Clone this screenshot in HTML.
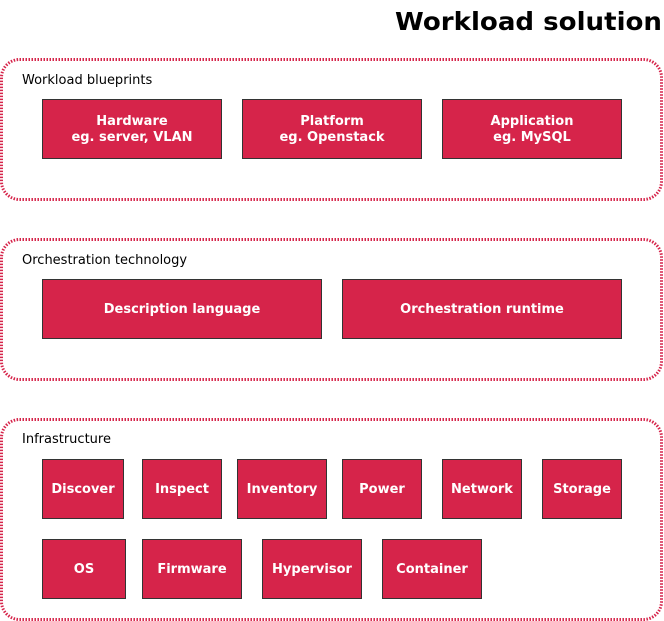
<!DOCTYPE html>
<html><head><style>
html,body{margin:0;padding:0;background:#fff;}
svg{display:block}
text{font-family:"DejaVu Sans",sans-serif;}
.b{fill:#d6244a;stroke:#333;stroke-width:1}
.t{fill:#fff;font-weight:bold;font-size:13px;text-anchor:middle}
.l{fill:#000;font-size:13px}
.s{fill:none;stroke:#d6244a;stroke-width:3;stroke-dasharray:1.5 1.5}
</style></head><body>
<svg width="664" height="621" xmlns="http://www.w3.org/2000/svg">
<text x="662" y="30" text-anchor="end" textLength="267" lengthAdjust="spacingAndGlyphs" style="font-family:'DejaVu Sans',sans-serif;font-weight:bold;font-size:25px">Workload solution</text>
<rect class="s" x="1.5" y="59.5" width="660" height="140" rx="18"/>
<rect class="s" x="1.5" y="239.5" width="660" height="140" rx="18"/>
<rect class="s" x="1.5" y="419.5" width="660" height="200" rx="18"/>
<text class="l" x="22" y="84">Workload blueprints</text>
<text class="l" x="22" y="264">Orchestration technology</text>
<text class="l" x="22" y="443">Infrastructure</text>
<rect class="b" x="42.5" y="99.5" width="179" height="59"/>
<text class="t" x="132" y="125">Hardware</text><text class="t" x="132" y="141">eg. server, VLAN</text>
<rect class="b" x="242.5" y="99.5" width="179" height="59"/>
<text class="t" x="332" y="125">Platform</text><text class="t" x="332" y="141">eg. Openstack</text>
<rect class="b" x="442.5" y="99.5" width="179" height="59"/>
<text class="t" x="532" y="125">Application</text><text class="t" x="532" y="141">eg. MySQL</text>
<rect class="b" x="42.5" y="279.5" width="279" height="59"/>
<text class="t" x="182" y="313">Description language</text>
<rect class="b" x="342.5" y="279.5" width="279" height="59"/>
<text class="t" x="482" y="313">Orchestration runtime</text>
<rect class="b" x="42.5" y="459.5" width="81" height="59"/><text class="t" x="83" y="493">Discover</text>
<rect class="b" x="142.5" y="459.5" width="79" height="59"/><text class="t" x="182" y="493">Inspect</text>
<rect class="b" x="237.5" y="459.5" width="89" height="59"/><text class="t" x="282" y="493">Inventory</text>
<rect class="b" x="342.5" y="459.5" width="79" height="59"/><text class="t" x="382" y="493">Power</text>
<rect class="b" x="442.5" y="459.5" width="79" height="59"/><text class="t" x="482" y="493">Network</text>
<rect class="b" x="542.5" y="459.5" width="79" height="59"/><text class="t" x="582" y="493">Storage</text>
<rect class="b" x="42.5" y="539.5" width="83" height="59"/><text class="t" x="84" y="573">OS</text>
<rect class="b" x="142.5" y="539.5" width="99" height="59"/><text class="t" x="192" y="573">Firmware</text>
<rect class="b" x="262.5" y="539.5" width="99" height="59"/><text class="t" x="312" y="573">Hypervisor</text>
<rect class="b" x="382.5" y="539.5" width="99" height="59"/><text class="t" x="432" y="573">Container</text>
</svg>
</body></html>
